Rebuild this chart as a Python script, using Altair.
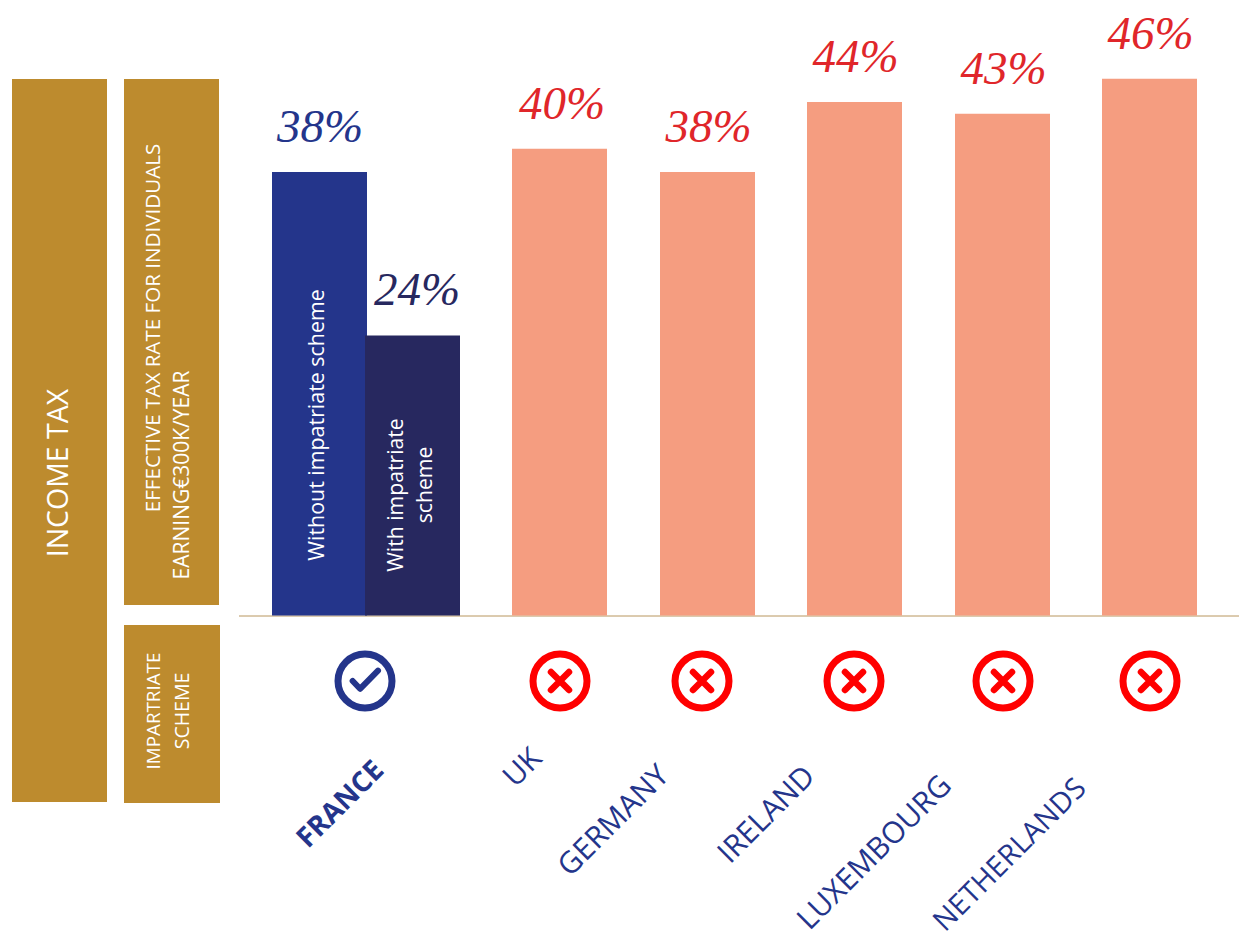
import altair as alt
import pandas as pd

# ---- values ----
bar_labels = ["Without impatriate scheme", "With impatriate scheme", "UK", "GERMANY", "IRELAND", "LUXEMBOURG", "NETHERLANDS"]
bar_values = [38, 24, 40, 38, 44, 43, 46]
bar_groups = ["without", "with", "other", "other", "other", "other", "other"]
status_names = ["FRANCE", "UK", "GERMANY", "IRELAND", "LUXEMBOURG", "NETHERLANDS"]
status_ok = [True, False, False, False, False, False]

# ---- layout (page pixels, 8px margin removed by P) ----
W, H = 1231, 929
BASE_Y = 615.5
PX_PER_PCT = 11.67
BAR_W = 95
bar_centers = [319.5, 412.5, 559.5, 707.5, 854.5, 1002.5, 1149.5]
pct_centers = [320, 417, 562, 708.5, 855.5, 1003.5, 1150.5]
icon_x = [365, 560, 702, 854, 1003, 1150]
ICON_Y = 681
label_pos = [(341, 805), (523, 768), (614, 821), (767, 815), (875, 853), (1010, 855)]
label_size = [28, 30, 30, 30, 30, 29]

GOLD = "#BD8B2E"; BLUE = "#24358B"; NAVY = "#27285F"; SALMON = "#F59D80"; RED = "#E0262A"; RING = "#FF0000"
SANS = "Open Sans"; SERIF = "Liberation Serif"


def P(v):
    return v - 8


x_scale = alt.Scale(domain=[0, W], range=[0, W], nice=False, zero=False)
y_scale = alt.Scale(domain=[(BASE_Y - 8 - H) / PX_PER_PCT, (BASE_Y - 8) / PX_PER_PCT], range=[H, 0], nice=False, zero=False)

df = pd.DataFrame({
    "label": bar_labels,
    "value": bar_values,
    "group": bar_groups,
    "zero": [0] * len(bar_values),
    "x0": [P(c - BAR_W / 2) for c in bar_centers],
    "x1": [P(c + BAR_W / 2) for c in bar_centers],
    "xc": [P(c) for c in pct_centers],
    "pct": [f"{v}%" for v in bar_values],
    "pct_color": [BLUE, NAVY] + [RED] * 5,
})
color_scale = alt.Scale(domain=["without", "with", "other"], range=[BLUE, NAVY, SALMON])

X = alt.X("x0:Q", scale=x_scale, axis=None)
X2 = alt.X2("x1:Q")
Y = alt.Y("value:Q", scale=y_scale, axis=None)

bars = alt.Chart(df).mark_bar(cornerRadius=0).encode(
    x=X, x2=X2, y=Y, y2=alt.Y2("zero:Q"),
    color=alt.Color("group:N", scale=color_scale, legend=None),
    order=alt.Order("x0:Q"),
)
pct = alt.Chart(df).mark_text(font=SERIF, fontStyle="italic", fontSize=47, baseline="middle", align="center", dy=-44).encode(
    x=alt.X("xc:Q", scale=x_scale, axis=None), y=Y, text="pct:N",
    color=alt.Color("pct_color:N", scale=None),
)


def box(x0, x1, y0, y1):
    return alt.Chart(alt.Data(values=[{"a": 1}])).mark_rect(color=GOLD).encode(
        x=alt.value(P(x0)), x2=alt.value(P(x1)), y=alt.value(P(y0)), y2=alt.value(P(y1)))


def vtext(s, x, y, size, color="white", weight="normal", angle=270, font=SANS):
    return alt.Chart(alt.Data(values=[{"t": s}])).mark_text(
        font=font, fontSize=size, fontWeight=weight, angle=angle, align="center", baseline="middle", color=color
    ).encode(x=alt.value(P(x)), y=alt.value(P(y)), text="t:N")


boxes = [box(12, 107, 79, 802), box(124, 219, 79, 605), box(124, 220, 625, 803)]
side_text = [
    vtext("INCOME TAX", 59, 473, 28.5),
    vtext("EFFECTIVE TAX RATE FOR  INDIVIDUALS", 154, 328, 20.6),
    vtext("EARNING€300K/YEAR", 183, 475, 21),
    vtext("IMPARTRIATE", 154, 711, 18.8),
    vtext("SCHEME", 183, 711, 19.5),
    vtext("Without impatriate scheme", 318, 425, 21.4),
    vtext("With impatriate", 397, 495, 21.2),
    vtext("scheme", 426, 485, 21.2),
]

axis_line = alt.Chart(alt.Data(values=[{"a": 1}])).mark_rule(color="#B8965F", strokeWidth=1).encode(
    x=alt.value(P(239)), x2=alt.value(W), y=alt.value(P(BASE_Y + 0.5)))

icons_df = pd.DataFrame({
    "name": status_names,
    "ok": status_ok,
    "ix": [P(v) for v in icon_x],
    "ring": [BLUE if o else RING for o in status_ok],
})
ix = alt.X("ix:Q", scale=x_scale, axis=None)
rings = alt.Chart(icons_df).mark_point(shape="circle", filled=False, size=2916, strokeWidth=7, opacity=1).encode(
    x=ix, y=alt.value(P(ICON_Y)), stroke=alt.Stroke("ring:N", scale=None))
cross = alt.Chart(icons_df[~icons_df.ok]).mark_point(
    shape="M-1,-1L1,1M-1,1L1,-1", filled=False, size=324, strokeWidth=6.5, strokeCap="round", color=RING, opacity=1
).encode(x=ix, y=alt.value(P(ICON_Y)))
check = alt.Chart(icons_df[icons_df.ok]).mark_point(
    shape="M-0.95,0L-0.38,0.6L1,-0.8", filled=False, size=676, strokeWidth=6, strokeCap="round", strokeJoin="round", color=BLUE, opacity=1
).encode(x=ix, y=alt.value(P(ICON_Y)))

country_text = [
    vtext(n, px, py, s, color=BLUE, weight="bold" if ok else "normal", angle=315)
    for n, ok, (px, py), s in zip(status_names, status_ok, label_pos, label_size)
]

chart = alt.layer(*boxes, axis_line, bars, pct, *side_text, rings, cross, check, *country_text).properties(
    width=W, height=H, padding=0, autosize=alt.AutoSizeParams(type="none")
).configure_view(stroke=None)

chart.save("out.html", embed_options={"renderer": "svg", "actions": False})
